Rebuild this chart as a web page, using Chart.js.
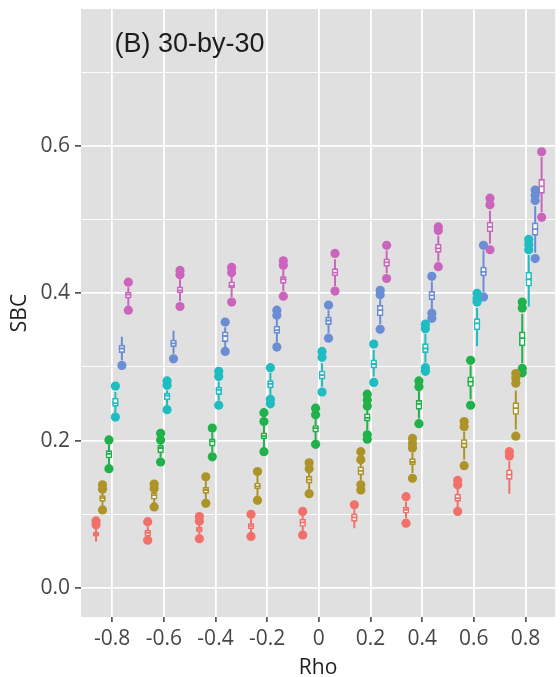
<!DOCTYPE html>
<html>
<head>
<meta charset="utf-8">
<script src="https://cdn.jsdelivr.net/npm/chart.js@4/dist/chart.umd.min.js"></script>
<style>
  html, body { margin: 0; padding: 0; background: #ffffff; }
  canvas { display: block; }
</style>
</head>
<body>
<canvas id="chart" width="560" height="677"></canvas>
<script>
// Correlation levels on the x axis
const rho = [-0.8, -0.6, -0.4, -0.2, 0, 0.2, 0.4, 0.6, 0.8];

// One colour per condition (ggplot hue palette)
const seriesColors = ['#F1706A', '#AD9428', '#20B14B', '#1EBDC1', '#6A8DD4', '#CB64BD'];

// Box statistics per rho: [lower whisker, Q1, median, Q3, upper whisker]
const boxRed = [
  [0.063, 0.070, 0.073, 0.076, 0.081],
  [0.068, 0.070, 0.075, 0.079, 0.084],
  [0.071, 0.076, 0.080, 0.083, 0.086],
  [0.075, 0.080, 0.084, 0.088, 0.094],
  [0.077, 0.083, 0.089, 0.094, 0.099],
  [0.081, 0.090, 0.096, 0.101, 0.107],
  [0.095, 0.101, 0.106, 0.110, 0.117],
  [0.110, 0.117, 0.122, 0.128, 0.136],
  [0.128, 0.147, 0.154, 0.161, 0.172]
];
const boxOlive = [
  [0.111, 0.117, 0.122, 0.126, 0.130],
  [0.115, 0.120, 0.126, 0.130, 0.131],
  [0.120, 0.128, 0.133, 0.137, 0.145],
  [0.125, 0.134, 0.138, 0.143, 0.152],
  [0.134, 0.142, 0.147, 0.152, 0.157],
  [0.146, 0.153, 0.159, 0.165, 0.169],
  [0.156, 0.167, 0.171, 0.176, 0.184],
  [0.174, 0.190, 0.196, 0.202, 0.212],
  [0.215, 0.235, 0.244, 0.252, 0.268]
];
const boxGreen = [
  [0.168, 0.176, 0.182, 0.187, 0.195],
  [0.177, 0.183, 0.190, 0.194, 0.197],
  [0.184, 0.192, 0.199, 0.203, 0.211],
  [0.191, 0.202, 0.206, 0.211, 0.220],
  [0.201, 0.211, 0.217, 0.221, 0.229],
  [0.214, 0.226, 0.231, 0.237, 0.242],
  [0.230, 0.242, 0.250, 0.255, 0.267],
  [0.256, 0.273, 0.280, 0.287, 0.302],
  [0.305, 0.328, 0.339, 0.348, 0.372]
];
const boxCyan = [
  [0.238, 0.246, 0.251, 0.258, 0.266],
  [0.248, 0.255, 0.261, 0.265, 0.268],
  [0.254, 0.262, 0.269, 0.273, 0.280],
  [0.260, 0.271, 0.277, 0.282, 0.292],
  [0.273, 0.283, 0.289, 0.295, 0.305],
  [0.287, 0.298, 0.304, 0.310, 0.323],
  [0.306, 0.319, 0.325, 0.332, 0.345],
  [0.328, 0.350, 0.359, 0.366, 0.380],
  [0.382, 0.409, 0.419, 0.429, 0.452]
];
const boxBlue = [
  [0.309, 0.319, 0.325, 0.330, 0.341],
  [0.318, 0.327, 0.332, 0.337, 0.349],
  [0.327, 0.334, 0.342, 0.348, 0.354],
  [0.333, 0.345, 0.350, 0.356, 0.364],
  [0.346, 0.357, 0.363, 0.368, 0.377],
  [0.358, 0.369, 0.377, 0.384, 0.392],
  [0.379, 0.391, 0.397, 0.403, 0.416],
  [0.402, 0.423, 0.429, 0.436, 0.458],
  [0.455, 0.478, 0.487, 0.496, 0.518]
];
const boxMagenta = [
  [0.383, 0.393, 0.398, 0.402, 0.408],
  [0.389, 0.400, 0.404, 0.409, 0.419],
  [0.395, 0.407, 0.410, 0.416, 0.424],
  [0.403, 0.413, 0.419, 0.423, 0.432],
  [0.410, 0.423, 0.428, 0.434, 0.446],
  [0.427, 0.436, 0.442, 0.447, 0.458],
  [0.443, 0.455, 0.461, 0.467, 0.478],
  [0.467, 0.483, 0.490, 0.497, 0.512],
  [0.510, 0.535, 0.545, 0.555, 0.585]
];

// Outlying values beyond the whiskers, per rho
const outRed = [[0.091, 0.086], [0.090, 0.065], [0.097, 0.091, 0.067], [0.100, 0.070], [0.104, 0.072], [0.113], [0.124, 0.088], [0.146, 0.140, 0.104], [0.185, 0.179]];
const outOlive = [[0.140, 0.134, 0.106], [0.141, 0.135, 0.110], [0.151, 0.115], [0.158, 0.119], [0.170, 0.162, 0.128], [0.185, 0.174, 0.140, 0.133], [0.203, 0.196, 0.190, 0.149], [0.226, 0.219, 0.166], [0.291, 0.285, 0.278, 0.206]];
const outGreen = [[0.201, 0.162], [0.210, 0.201, 0.171], [0.217, 0.178], [0.238, 0.226, 0.185], [0.244, 0.235, 0.195], [0.263, 0.255, 0.247, 0.208, 0.202], [0.281, 0.273, 0.223], [0.309, 0.248], [0.388, 0.380, 0.298, 0.292]];
const outCyan = [[0.274, 0.232], [0.281, 0.275, 0.242], [0.294, 0.287, 0.248], [0.299, 0.256, 0.250], [0.321, 0.313, 0.266], [0.331, 0.279], [0.358, 0.352, 0.299, 0.294], [0.400, 0.393, 0.388], [0.473, 0.466, 0.459]];
const outBlue = [[0.302], [0.311], [0.361, 0.321], [0.377, 0.370, 0.327], [0.384, 0.339], [0.404, 0.398, 0.351], [0.423, 0.373, 0.366], [0.465, 0.395], [0.540, 0.533, 0.526, 0.447]];
const outMagenta = [[0.415, 0.377], [0.431, 0.425, 0.382], [0.435, 0.428, 0.388], [0.444, 0.438, 0.396], [0.454, 0.403], [0.465, 0.420], [0.490, 0.485, 0.436], [0.529, 0.520, 0.459], [0.592, 0.503]];

// Axis tick values
const xTicks = rho;
const yTicks = [0.0, 0.2, 0.4, 0.6];

const boxes = [boxRed, boxOlive, boxGreen, boxCyan, boxBlue, boxMagenta];
const outliers = [outRed, outOlive, outGreen, outCyan, outBlue, outMagenta];

// Dodging: six slots share 75% of the 0.2 spacing between rho levels
const groupShare = 0.75;
const rhoStep = 0.2;
const slot = rhoStep * groupShare / boxes.length;

const datasets = [];
boxes.forEach((stats, i) => {
  const col = seriesColors[i];
  const shift = (i - (boxes.length - 1) / 2) * slot;
  // whisker: thin floating bar from lower to upper whisker
  datasets.push({
    type: 'bar', stack: 's' + i, order: 4,
    data: rho.map((r, k) => ({ x: r, y: [stats[k][0], stats[k][4]] })),
    backgroundColor: col, borderWidth: 0,
    categoryPercentage: groupShare, barPercentage: 1, maxBarThickness: 2
  });
  // box: floating bar from Q1 to Q3
  datasets.push({
    type: 'bar', stack: 's' + i, order: 3,
    data: rho.map((r, k) => ({ x: r, y: [stats[k][1], stats[k][3]] })),
    backgroundColor: '#ffffff', borderColor: col, borderWidth: 1.7, borderSkipped: false,
    categoryPercentage: groupShare, barPercentage: 1
  });
  // median tick inside the box
  datasets.push({
    type: 'scatter', order: 2,
    data: rho.map((r, k) => ({ x: r + shift, y: stats[k][2] })),
    pointStyle: 'line', pointRadius: 3, pointBorderColor: col, pointBorderWidth: 1.8,
    pointHoverRadius: 0
  });
  // outlying points
  datasets.push({
    type: 'scatter', order: 1,
    data: outliers[i].flatMap((vals, k) => vals.map(v => ({ x: rho[k] + shift, y: v }))),
    pointStyle: 'circle', pointRadius: 4.6, pointBackgroundColor: col, pointBorderWidth: 0,
    pointHoverRadius: 0
  });
});

const isMajorY = (v) => yTicks.some(t => Math.abs(t - v) < 1e-6);

// grey panel behind the plot and the panel tag in its corner
const panelPlugin = {
  id: 'panel',
  beforeDraw(chart) {
    const { ctx, chartArea: a } = chart;
    ctx.save();
    ctx.fillStyle = '#ffffff';
    ctx.fillRect(0, 0, chart.width, chart.height);
    ctx.fillStyle = '#E0E0E0';
    ctx.fillRect(a.left, a.top, a.right - a.left, a.bottom - a.top);
    ctx.restore();
  },
  afterDatasetsDraw(chart) {
    const { ctx, chartArea: a } = chart;
    ctx.save();
    ctx.font = '27px "Liberation Sans", Arial, sans-serif';
    ctx.fillStyle = '#1c1c1c';
    ctx.textBaseline = 'alphabetic';
    ctx.textAlign = 'left';
    ctx.fillText('(B) 30-by-30', a.left + 33.5, a.top + 43);
    ctx.restore();
  }
};

const tickFont = { family: '"Open Sans", sans-serif', size: 21 };
const titleFont = { family: '"Open Sans", sans-serif', size: 21 };

new Chart(document.getElementById('chart'), {
  type: 'scatter',
  data: { datasets },
  options: {
    responsive: false,
    animation: false,
    events: [],
    layout: { padding: { top: 9, right: 0, bottom: 0, left: 0 } },
    plugins: { legend: { display: false }, tooltip: { enabled: false }, title: { display: false } },
    scales: {
      x: {
        type: 'linear', min: -0.9207, max: 0.915, offset: false,
        afterBuildTicks: (s) => { s.ticks = xTicks.map(v => ({ value: v })); },
        ticks: {
          autoSkip: false, maxRotation: 0, color: '#474747', font: tickFont, padding: 4,
          callback: (v) => { const r = Math.round(v * 10) / 10; return r === 0 ? '0' : String(r); }
        },
        grid: { offset: false, color: '#ffffff', lineWidth: 1.8, tickLength: 5, tickColor: '#3a3a3a', tickWidth: 1.5 },
        border: { display: false },
        title: { display: true, text: 'Rho', color: '#1e1e1e', font: titleFont, padding: { top: 0, bottom: -4 } },
        afterFit: (s) => { s.height = 60; s.paddingLeft = 0; s.paddingRight = 0; }
      },
      y: {
        type: 'linear', min: -0.0393, max: 0.7857, stacked: false,
        ticks: {
          stepSize: 0.1, autoSkip: false, includeBounds: false, color: '#474747', font: tickFont, padding: 5,
          callback: (v) => isMajorY(v) ? v.toFixed(1) : ''
        },
        grid: {
          color: '#ffffff',
          lineWidth: (c) => (c.tick && isMajorY(c.tick.value)) ? 1.8 : 0.9,
          tickLength: 6,
          tickColor: (c) => (c.tick && isMajorY(c.tick.value)) ? '#3a3a3a' : 'rgba(0,0,0,0)',
          tickWidth: 1.5
        },
        border: { display: false },
        title: { display: true, text: 'SBC', color: '#1e1e1e', font: titleFont, padding: { top: 7, bottom: 0 } },
        afterFit: (s) => { s.width = 81; s.paddingTop = 0; s.paddingBottom = 0; }
      }
    }
  },
  plugins: [panelPlugin]
});
</script>
</body>
</html>
